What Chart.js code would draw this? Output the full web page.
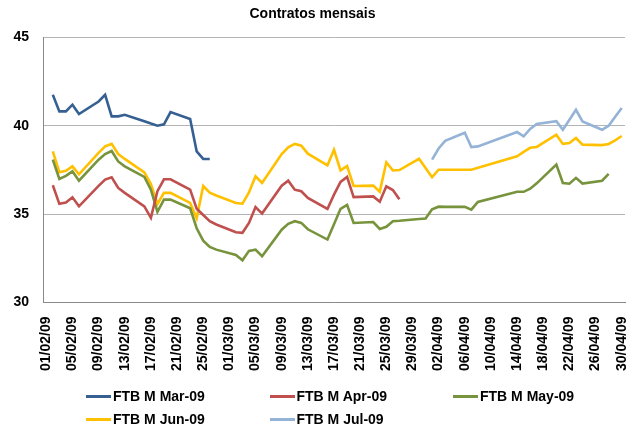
<!DOCTYPE html>
<html lang="pt">
<head>
<meta charset="UTF-8">
<title>Contratos mensais</title>
<script src="https://cdn.jsdelivr.net/npm/chart.js"></script>
<style>
  html, body { margin: 0; padding: 0; background: #fff; }
  #wrap { position: relative; width: 637px; height: 430px; }
  #legend { position: absolute; left: 0; top: 0; width: 637px; height: 430px; pointer-events: none;
            font-family: "Liberation Sans", Arial, sans-serif; font-weight: bold; font-size: 14px; color: #000; }
  .item { position: absolute; display: flex; align-items: center; height: 16px; white-space: nowrap; }
  .item span.sw { display: inline-block; width: 25px; height: 3px; margin-right: 2px; }
</style>
</head>
<body>
<div id="wrap">
  <canvas id="chart" width="637" height="430"></canvas>
  <div id="legend"></div>
</div>
<script>
// calendar axis: one category per day, 01/02/09 .. 30/04/09, label every 4 days
const dayCount = 89;
const labelEvery = 4;

// trading days (weekdays) and the settlement of each contract on that day
const tradeDates = [
  '02/02/09','03/02/09','04/02/09','05/02/09','06/02/09',
  '09/02/09','10/02/09','11/02/09','12/02/09','13/02/09',
  '16/02/09','17/02/09','18/02/09','19/02/09','20/02/09',
  '23/02/09','24/02/09','25/02/09','26/02/09','27/02/09',
  '02/03/09','03/03/09','04/03/09','05/03/09','06/03/09',
  '09/03/09','10/03/09','11/03/09','12/03/09','13/03/09',
  '16/03/09','17/03/09','18/03/09','19/03/09','20/03/09',
  '23/03/09','24/03/09','25/03/09','26/03/09','27/03/09',
  '30/03/09','31/03/09','01/04/09','02/04/09','03/04/09',
  '06/04/09','07/04/09','08/04/09','09/04/09','10/04/09',
  '13/04/09','14/04/09','15/04/09','16/04/09','17/04/09',
  '20/04/09','21/04/09','22/04/09','23/04/09','24/04/09',
  '27/04/09','28/04/09','29/04/09','30/04/09'
];

const mar09 = [
  41.75, 40.81, 40.81, 41.19, 40.66,
  41.37, 41.75, 40.53, 40.53, 40.62,
  40.25, 40.12, 40.0, 40.08, 40.77,
  40.38, 38.55, 38.12, 38.12, null
];
const apr09 = [
  36.63, 35.58, 35.65, 35.95, 35.44,
  36.6, 36.95, 37.08, 36.48, 36.2,
  35.44, 34.79, 36.3, 36.97, 36.97,
  36.38, 35.3, 34.95, 34.6, 34.41,
  33.97, 33.94, 34.5, 35.4, 35.03,
  36.61, 36.89, 36.38, 36.29, 35.92,
  35.29, 36.1, 36.82, 37.1, 35.96,
  36.0, 35.7, 36.57, 36.36, 35.84
];
const may09 = [
  38.08, 36.99, 37.16, 37.42, 36.89,
  38.08, 38.4, 38.57, 37.98, 37.7,
  37.1, 36.38, 35.13, 35.82, 35.82,
  35.33, 34.2, 33.5, 33.14, 32.99,
  32.69, 32.39, 32.92, 32.99, 32.62,
  34.12, 34.45, 34.6, 34.5, 34.14,
  33.56, 34.43, 35.3, 35.52, 34.5,
  34.55, 34.16, 34.28, 34.6, 34.62,
  34.72, 34.75, 35.27, 35.42, 35.41,
  35.41, 35.25, 35.69, null, null,
  null, 36.26, 36.26, 36.44, 36.74,
  37.8, 36.76, 36.72, 37.05, 36.73,
  36.89, 37.27, null, null
];
const jun09 = [
  38.55, 37.37, 37.45, 37.7, 37.25,
  38.46, 38.83, 38.97, 38.4, 38.12,
  37.36, 36.7, 35.57, 36.2, 36.2,
  35.63, 34.76, 36.59, 36.21, 36.05,
  35.63, 35.59, 36.23, 37.14, 36.76,
  38.4, 38.78, 38.97, 38.87, 38.42,
  37.76, 38.64, 37.47, 37.72, 36.59,
  36.61, 36.27, 37.93, 37.47, 37.49,
  38.13, 37.61, 37.09, 37.51, 37.51,
  37.51, 37.51, null, null, null,
  null, 38.27, 38.52, 38.75, 38.8,
  39.49, 38.97, 39.02, 39.3, 38.93,
  38.9, 38.97, 39.17, 39.42
];
const jul09 = [
  null, null, null, null, null,
  null, null, null, null, null,
  null, null, null, null, null,
  null, null, null, null, null,
  null, null, null, null, null,
  null, null, null, null, null,
  null, null, null, null, null,
  null, null, null, null, null,
  null, null, 38.08, 38.71, 39.14,
  39.6, 38.79, 38.83, null, null,
  null, 39.64, 39.4, 39.82, 40.1,
  40.26, 39.77, 40.34, 40.9, 40.24,
  39.77, 40.0, 40.51, 41.0
];

const seriesNames = ['FTB M Mar-09', 'FTB M Apr-09', 'FTB M May-09', 'FTB M Jun-09', 'FTB M Jul-09'];
const seriesColors = ['#376092', '#c0504d', '#77933c', '#ffc000', '#95b3d7'];
const seriesValues = [mar09, apr09, may09, jun09, jul09];

function fmt(d) {
  const p = n => String(n).padStart(2, '0');
  return p(d.getDate()) + '/' + p(d.getMonth() + 1) + '/' + String(d.getFullYear()).slice(2);
}

const dayLabels = [];
for (let i = 0; i < dayCount; i++) {
  dayLabels.push(fmt(new Date(2009, 1, 1 + i)));
}

// spread trading-day values over the calendar axis (weekends stay empty)
function toDaily(values) {
  const out = new Array(dayCount).fill(null);
  tradeDates.forEach((d, i) => {
    const v = values[i];
    if (v === undefined || v === null) return;
    out[dayLabels.indexOf(d)] = v;
  });
  return out;
}

const FONT = '"Liberation Sans", Arial, sans-serif';

new Chart(document.getElementById('chart'), {
  type: 'line',
  data: {
    labels: dayLabels,
    datasets: seriesNames.map((name, i) => ({
      label: name,
      data: toDaily(seriesValues[i]),
      borderColor: seriesColors[i],
      backgroundColor: seriesColors[i],
      borderWidth: 2.6,
      pointRadius: 0,
      spanGaps: true,
      tension: 0,
      fill: false
    }))
  },
  options: {
    responsive: false,
    animation: false,
    layout: { padding: { left: 0, right: 12, top: 0, bottom: 55.5 } },
    plugins: {
      legend: { display: false },
      tooltip: { enabled: false },
      title: {
        display: true,
        text: 'Contratos mensais',
        color: '#000',
        font: { family: FONT, size: 14, weight: 'bold' },
        padding: { top: 5.5, bottom: 15 }
      }
    },
    scales: {
      x: {
        type: 'category',
        offset: true,
        grid: { display: false, drawTicks: false },
        border: { display: true, color: '#898989', width: 1 },
        afterFit: s => { s.height = 72; s.paddingLeft = 0; s.paddingRight = 0; },
        ticks: {
          autoSkip: false,
          maxRotation: 90,
          minRotation: 90,
          padding: 14,
          color: '#000',
          font: { family: FONT, size: 14, weight: 'bold' },
          callback: function (v, i) {
            return i % labelEvery === 0 ? dayLabels[i] : null;
          }
        }
      },
      y: {
        min: 30,
        max: 45,
        grid: { color: '#b4b4b4', drawTicks: false },
        border: { display: true, color: '#898989', width: 1 },
        afterFit: s => { s.width = 43; },
        ticks: {
          stepSize: 5,
          padding: 14,
          color: '#000',
          font: { family: FONT, size: 14, weight: 'bold' }
        }
      }
    }
  }
});

// legend in three fixed columns, like the original sheet
const legendCols = [86, 269.5, 453];
const legendRows = [396, 419];
const legendBox = document.getElementById('legend');
seriesNames.forEach((name, i) => {
  const el = document.createElement('div');
  el.className = 'item';
  el.style.left = legendCols[i % 3] + 'px';
  el.style.top = (legendRows[Math.floor(i / 3)] - 8) + 'px';
  el.innerHTML = '<span class="sw" style="background:' + seriesColors[i] + '"></span>' + name;
  legendBox.appendChild(el);
});
</script>
</body>
</html>
